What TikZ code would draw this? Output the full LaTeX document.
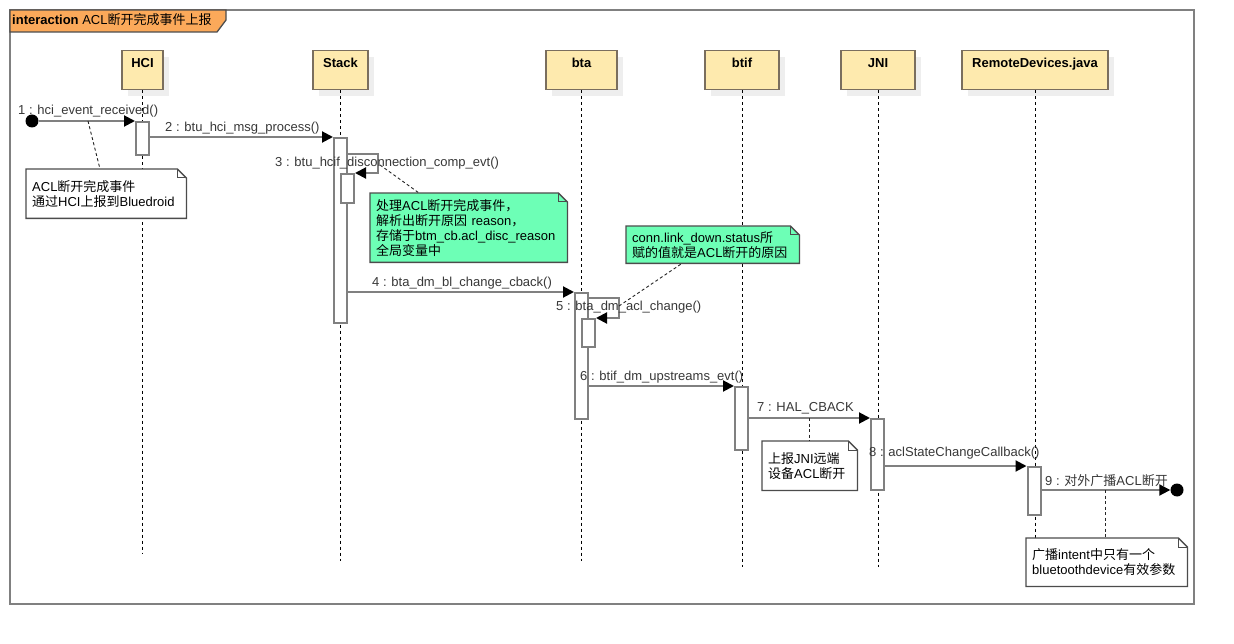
\documentclass[tikz,border=0pt]{standalone}
\usepackage{fontspec}
\setmainfont{Liberation Sans}
\newfontfamily\cjk{Noto Sans CJK SC}
\newcommand{\zh}[1]{{\cjk #1}}
\usetikzlibrary{arrows.meta,shadows}

\definecolor{headfill}{HTML}{FEEAAE}
\definecolor{headline}{HTML}{7A6E5E}
\definecolor{tabfill}{HTML}{FBA95A}
\definecolor{notegreen}{HTML}{6DFFB6}
\definecolor{linegray}{HTML}{808080}
\definecolor{shadowgray}{HTML}{EEEEEE}

\begin{document}
\begin{tikzpicture}[x=1pt,y=-1pt,
  every node/.style={font=\fontsize{13pt}{15pt}\selectfont},
  head/.style={draw=headline, fill=headfill, line width=1.5pt, inner sep=0pt,
    text height=17pt, text depth=22pt, anchor=north,
    font=\fontsize{13pt}{15pt}\selectfont\bfseries,
    drop shadow={shadow xshift=6pt, shadow yshift=-6pt, fill=shadowgray, opacity=1}},
  lifeline/.style={black, line width=0.9pt, dash pattern=on 3pt off 3pt},
  act/.style={draw=linegray, fill=white, line width=2pt, minimum width=13pt,
    inner sep=0pt, anchor=north},
  msg/.style={draw=linegray, line width=2pt,
    -{Triangle[length=11pt,width=11pt,color=black]}},
  lbl/.style={anchor=base west, inner sep=0pt, text=black!78},
  note/.style={anchor=north west, align=left, inner xsep=6pt, inner ysep=0pt},
  notebox/.style={draw=black!70, line width=1.3pt},
  link/.style={black!85, line width=0.9pt, dash pattern=on 3pt off 2.5pt},
  dot/.style={circle, fill=black, inner sep=0pt, minimum size=13pt}
]

  % Page and frame
  \fill[white] (0,0) rectangle (1234,644);
  \useasboundingbox (0,0) rectangle (1234,644);
  \draw[linegray, line width=2pt] (10,10) rectangle (1194,604);
  \draw[black!70, line width=1.3pt, fill=tabfill]
    (10,10) -- (226,10) -- (226,20) -- (217,32) -- (10,32) -- cycle;
  \node[anchor=base west, inner sep=0pt] (title) at (12,25)
    {\textbf{interaction} ACL\zh{断开完成事件上报}};

  % Lifeline heads
  \node[head, minimum width=41pt] (hci) at (142.5,50) {HCI};
  \node[head, minimum width=55pt] (stack) at (340.5,50) {Stack};
  \node[head, minimum width=71pt] (bta) at (581.5,50) {bta};
  \node[head, minimum width=74pt] (btif) at (742,50) {btif};
  \node[head, minimum width=74pt] (jni) at (878,50) {JNI};
  \node[head, minimum width=146pt] (remote) at (1035,50) {RemoteDevices.java};

  % Lifelines
  \coordinate (hciend) at (142.5,553);
  \coordinate (stackend) at (340.5,561);
  \coordinate (btaend) at (581.5,561);
  \coordinate (btifend) at (742,567);
  \coordinate (jniend) at (878,567);
  \coordinate (remoteend) at (1035,545);
  \draw[lifeline] (hci.south) -- (hciend);
  \draw[lifeline] (stack.south) -- (stackend);
  \draw[lifeline] (bta.south) -- (btaend);
  \draw[lifeline] (btif.south) -- (btifend);
  \draw[lifeline] (jni.south) -- (jniend);
  \draw[lifeline] (remote.south) -- (remoteend);

  % Activation bars
  \node[act, minimum height=33pt] (hcia) at (142.5,121) {};
  \node[act, minimum height=185pt] (stacka) at (340.5,137) {};
  \node[act, minimum height=29pt] (stackb) at (347.5,173) {};
  \node[act, minimum height=126pt] (btaa) at (581.5,292) {};
  \node[act, minimum height=28pt] (btab) at (588.5,318) {};
  \node[act, minimum height=63pt] (btifa) at (741.5,386) {};
  \node[act, minimum height=71pt] (jnia) at (877.5,418) {};
  \node[act, minimum height=48pt] (remotea) at (1034,466) {};

  % Found and lost message ends
  \node[dot] (start) at (32,121) {};
  \node[dot] (stop) at (1177,490) {};

  % Messages
  \draw[msg] (start) -- (hcia.north west);
  \draw[msg] (hcia.east |- stacka.north) -- (stacka.north west);
  \draw[msg] ([yshift=-17pt]stacka.north east) -- ++(30,0) |- (stackb.north east);
  \draw[msg] (stacka.east |- btaa.north) -- (btaa.north west);
  \draw[msg] ([yshift=-6pt]btaa.north east) -- ++(30,0) |- (btab.north east);
  \draw[msg] (btaa.east |- btifa.north) -- (btifa.north west);
  \draw[msg] (btifa.east |- jnia.north) -- (jnia.north west);
  \draw[msg] (jnia.east |- remotea.north) -- (remotea.north west);
  \draw[msg] (remotea.east |- stop) -- (stop.west);

  % Message labels
  \node[lbl] (m1) at (18,115) {1 : hci\_event\_received()};
  \node[lbl] (m2) at (165,132) {2 : btu\_hci\_msg\_process()};
  \node[lbl] (m3) at (275,167) {3 : btu\_hcif\_disconnection\_comp\_evt()};
  \node[lbl] (m4) at (372,287) {4 : bta\_dm\_bl\_change\_cback()};
  \node[lbl] (m5) at (556,311) {5 : bta\_dm\_acl\_change()};
  \node[lbl] (m6) at (580,380) {6 : btif\_dm\_upstreams\_evt()};
  \node[lbl] (m7) at (757,411) {7 : HAL\_CBACK};
  \node[lbl] (m8) at (869,456) {8 : aclStateChangeCallback()};
  \node[lbl] (m9) at (1045,485) {9 : \zh{对外广播}ACL\zh{断开}};

  % Notes
  \node[note, fill=white, text width=148pt, minimum height=49pt] (noteE) at (26,169)
    {ACL\zh{断开完成事件}\\\zh{通过}HCI\zh{上报到}Bluedroid};
  \fill[white] ([xshift=-9pt]noteE.north east) -- (noteE.north east) -- ([yshift=-9pt]noteE.north east) -- cycle;
  \draw[notebox] (noteE.north west) -- ([xshift=-9pt]noteE.north east) -- ([yshift=-9pt]noteE.north east) -- (noteE.south east) -- (noteE.south west) -- cycle;
  \draw[notebox, line width=1pt] ([xshift=-9pt]noteE.north east) |- ([yshift=-9pt]noteE.north east);

  \node[note, fill=notegreen, text width=185pt, minimum height=69pt] (noteA) at (370,193)
    {\zh{处理}ACL\zh{断开完成事件，}\\\zh{解析出断开原因} reason\zh{，}\\\zh{存储于}btm\_cb.acl\_disc\_reason\\\zh{全局变量中}};
  \fill[white] ([xshift=-9pt]noteA.north east) -- (noteA.north east) -- ([yshift=-9pt]noteA.north east) -- cycle;
  \draw[notebox] (noteA.north west) -- ([xshift=-9pt]noteA.north east) -- ([yshift=-9pt]noteA.north east) -- (noteA.south east) -- (noteA.south west) -- cycle;
  \draw[notebox, line width=1pt] ([xshift=-9pt]noteA.north east) |- ([yshift=-9pt]noteA.north east);

  \node[note, fill=notegreen, text width=161pt, minimum height=37pt] (noteB) at (626,226)
    {conn.link\_down.status\zh{所}\\\zh{赋的值就是}ACL\zh{断开的原因}};
  \fill[white] ([xshift=-9pt]noteB.north east) -- (noteB.north east) -- ([yshift=-9pt]noteB.north east) -- cycle;
  \draw[notebox] (noteB.north west) -- ([xshift=-9pt]noteB.north east) -- ([yshift=-9pt]noteB.north east) -- (noteB.south east) -- (noteB.south west) -- cycle;
  \draw[notebox, line width=1pt] ([xshift=-9pt]noteB.north east) |- ([yshift=-9pt]noteB.north east);

  \node[note, fill=white, text width=83pt, minimum height=49pt] (noteC) at (762,441)
    {\zh{上报}JNI\zh{远端}\\\zh{设备}ACL\zh{断开}};
  \fill[white] ([xshift=-9pt]noteC.north east) -- (noteC.north east) -- ([yshift=-9pt]noteC.north east) -- cycle;
  \draw[notebox] (noteC.north west) -- ([xshift=-9pt]noteC.north east) -- ([yshift=-9pt]noteC.north east) -- (noteC.south east) -- (noteC.south west) -- cycle;
  \draw[notebox, line width=1pt] ([xshift=-9pt]noteC.north east) |- ([yshift=-9pt]noteC.north east);

  \node[note, fill=white, text width=149pt, minimum height=48pt] (noteD) at (1026,538)
    {\zh{广播}intent\zh{中只有一个}\\bluetoothdevice\zh{有效参数}};
  \fill[white] ([xshift=-9pt]noteD.north east) -- (noteD.north east) -- ([yshift=-9pt]noteD.north east) -- cycle;
  \draw[notebox] (noteD.north west) -- ([xshift=-9pt]noteD.north east) -- ([yshift=-9pt]noteD.north east) -- (noteD.south east) -- (noteD.south west) -- cycle;
  \draw[notebox, line width=1pt] ([xshift=-9pt]noteD.north east) |- ([yshift=-9pt]noteD.north east);

  % Note links
  \coordinate (e1) at (88,121);
  \coordinate (a1) at (380,165);
  \coordinate (b1) at (619,306);
  \coordinate (c1) at (809,418);
  \coordinate (d1) at (1105,490);
  \draw[link] (e1) -- ([xshift=74pt]noteE.north west);
  \draw[link] (a1) -- ([xshift=49pt]noteA.north west);
  \draw[link] (b1) -- ([xshift=56pt]noteB.south west);
  \draw[link] (c1) -- ([xshift=47pt]noteC.north west);
  \draw[link] (d1) -- ([xshift=79pt]noteD.north west);

\end{tikzpicture}
\end{document}
